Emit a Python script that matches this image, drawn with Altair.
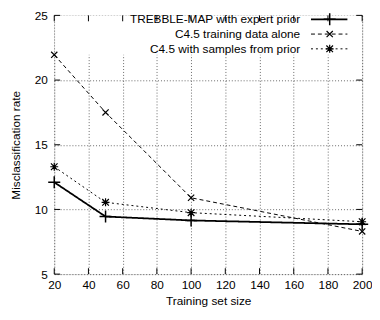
import altair as alt
import pandas as pd

sizes = [20, 50, 100, 200]
trebble = [12.1, 9.45, 9.15, 8.85]
c45_alone = [21.95, 17.5, 10.9, 8.3]
c45_prior = [13.3, 10.55, 9.75, 9.05]

series_names = ["TREBBLE-MAP with expert prior", "C4.5 training data alone", "C4.5 with samples from prior"]
x_ticks = [20, 40, 60, 80, 100, 120, 140, 160, 180, 200]
y_ticks = [5, 10, 15, 20, 25]

W, H = 313, 263
FONT = "Liberation Sans"

PLUS = "M-1,0L1,0M0,-1L0,1"
XMARK = "M-1,-1L1,1M-1,1L1,-1"
STAR = "M-1,-1L1,1M-1,1L1,-1M0,-1.2L0,1.2M-1.2,0L1.2,0"

styles = [
    dict(dash=[1, 0], width=1.8, shape=PLUS, size=150, pw=1.5),
    dict(dash=[4, 3], width=1.0, shape=XMARK, size=40, pw=1.2),
    dict(dash=[2, 3], width=1.0, shape=STAR, size=45, pw=1.2),
]
values = [trebble, c45_alone, c45_prior]

xs = alt.Scale(domain=[20, 200], nice=False, zero=False)
ys = alt.Scale(domain=[5, 25], nice=False, zero=False)

x_axis = alt.Axis(values=x_ticks, title="Training set size", grid=True, gridDash=[1, 2],
                  gridColor="#000", gridOpacity=0.6, ticks=False, domain=False,
                  labelFont=FONT, labelFontSize=12, labelColor="#000", labelPadding=6,
                  titleFont=FONT, titleFontSize=12, titleFontWeight="normal", titleColor="#000",
                  titlePadding=5, labelFlush=False)
y_axis = alt.Axis(values=y_ticks, title="Misclassification rate", grid=True, gridDash=[1, 2],
                  gridColor="#000", gridOpacity=0.6, ticks=False, domain=False,
                  labelFont=FONT, labelFontSize=12, labelColor="#000", labelPadding=7,
                  titleFont=FONT, titleFontSize=12, titleFontWeight="normal", titleColor="#000",
                  titlePadding=12, labelFlush=False)

def X(f):
    return alt.X(f, scale=xs, axis=x_axis)

def Y(f):
    return alt.Y(f, scale=ys, axis=y_axis)

xt = pd.DataFrame({"v": x_ticks})
yt = pd.DataFrame({"v": y_ticks})

base = alt.Chart(xt).mark_rule(opacity=0).encode(x=X("v:Q"), y=alt.value(0), y2=alt.value(1))
base_y = alt.Chart(yt).mark_rule(opacity=0).encode(y=Y("v:Q"), x=alt.value(0), x2=alt.value(1))

legend_bg = alt.Chart(pd.DataFrame({"t": [0]})).mark_rect(color="white").encode(
    x=alt.value(1), x2=alt.value(W - 1), y=alt.value(0), y2=alt.value(40))

layers = []
for name, vals, st in zip(series_names, values, styles):
    df = pd.DataFrame({"size": sizes, "rate": vals, "series": name})
    line = alt.Chart(df).mark_line(color="black", strokeWidth=st["width"], strokeDash=st["dash"]).encode(
        x=X("size:Q"), y=Y("rate:Q"))
    pts = alt.Chart(df).mark_point(shape=st["shape"], size=st["size"], filled=False, color="black",
                                   strokeWidth=st["pw"], opacity=1).encode(x=X("size:Q"), y=Y("rate:Q"))
    layers += [line, pts]

tick_layers = [
    alt.Chart(xt).mark_rule(color="black").encode(x=X("v:Q"), y=alt.value(H), y2=alt.value(H - 6)),
    alt.Chart(xt).mark_rule(color="black").encode(x=X("v:Q"), y=alt.value(0), y2=alt.value(6)),
    alt.Chart(yt).mark_rule(color="black").encode(y=Y("v:Q"), x=alt.value(0), x2=alt.value(6)),
    alt.Chart(yt).mark_rule(color="black").encode(y=Y("v:Q"), x=alt.value(W), x2=alt.value(W - 6)),
]

leg = []
for i, (name, st) in enumerate(zip(series_names, styles)):
    yy = 4 + 15 * i
    d = pd.DataFrame({"t": [name]})
    leg.append(alt.Chart(d).mark_text(align="right", baseline="middle", font=FONT, fontSize=12, color="black").encode(
        text="t:N", x=alt.value(250), y=alt.value(yy)))
    leg.append(alt.Chart(d).mark_rule(color="black", strokeWidth=st["width"], strokeDash=st["dash"]).encode(
        x=alt.value(261), x2=alt.value(298), y=alt.value(yy)))
    leg.append(alt.Chart(d).mark_point(shape=st["shape"], size=st["size"], filled=False, color="black",
                                       strokeWidth=st["pw"], opacity=1).encode(x=alt.value(280), y=alt.value(yy)))

chart = alt.layer(base, base_y, legend_bg, *layers, *tick_layers, *leg).properties(
    width=W, height=H,
    autosize=alt.AutoSizeParams(type="none"),
    padding={"left": 47, "top": 5, "right": 10, "bottom": 36},
).configure_view(stroke="black", strokeWidth=1.2).configure(background="white")

chart.save("out.html", embed_options={"renderer": "svg", "actions": False})
